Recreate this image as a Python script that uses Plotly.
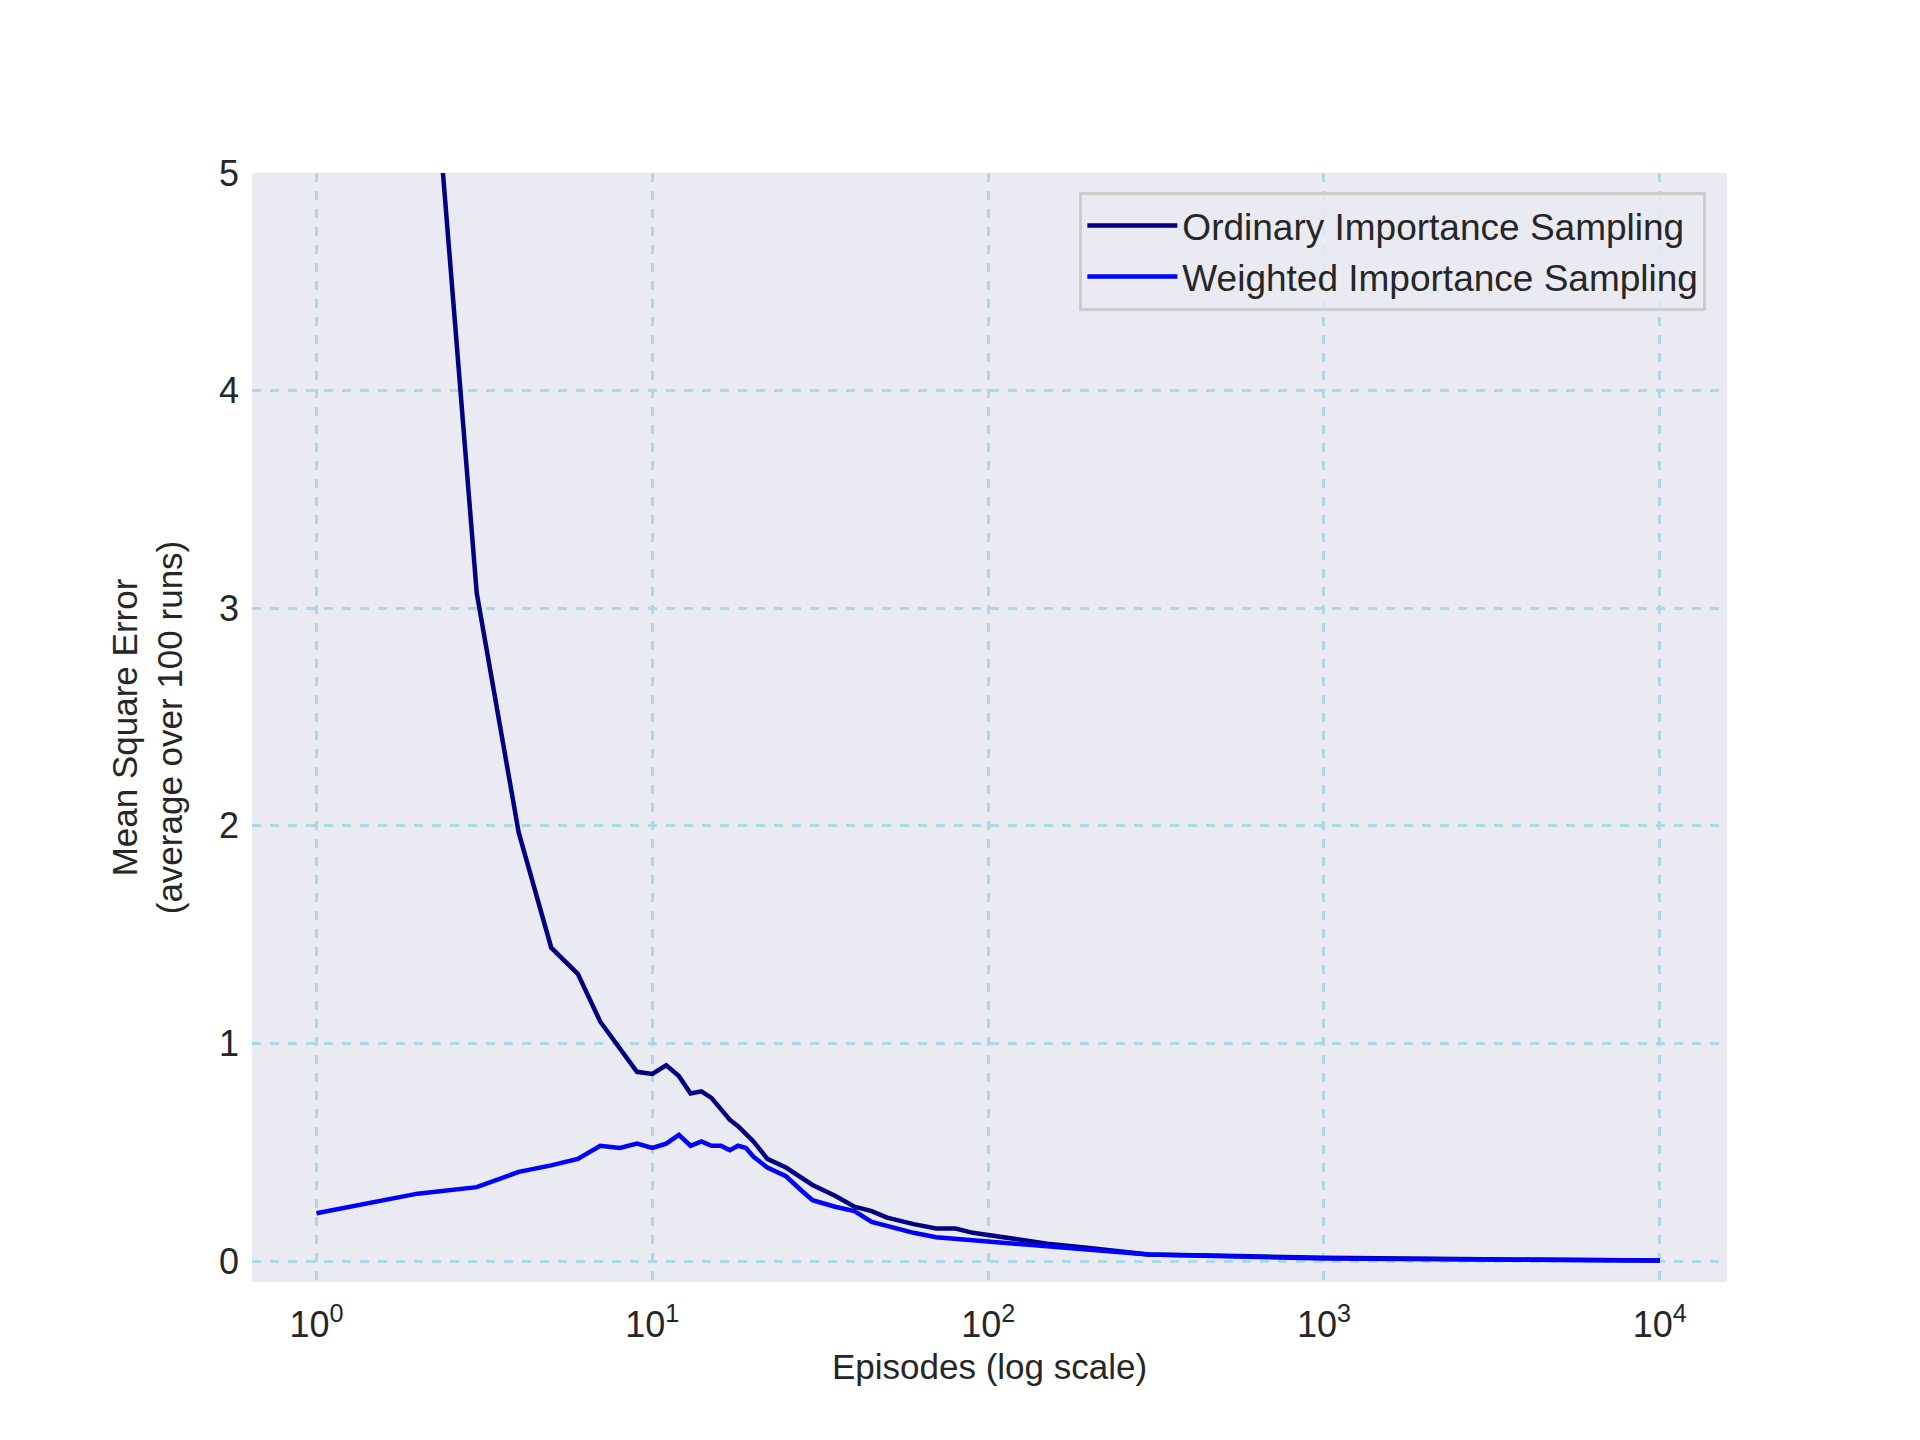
import plotly.graph_objects as go

ord_x = [1, 2, 3, 4, 5, 6, 7, 8, 9, 10, 11, 12, 13, 14, 15, 17, 18, 20, 22, 25, 28, 30, 35, 40,
         45, 50, 60, 70, 80, 90, 100, 120, 150, 200, 300, 500, 1000, 3000, 10000]
ord_y = [20.0, 6.45, 3.07, 1.97, 1.44, 1.32, 1.10, 0.98, 0.87, 0.86, 0.90, 0.85, 0.77, 0.78, 0.75,
         0.65, 0.62, 0.55, 0.47, 0.43, 0.38, 0.35, 0.30, 0.25, 0.23, 0.20, 0.17, 0.15, 0.15, 0.13,
         0.12, 0.10, 0.08, 0.06, 0.03, 0.025, 0.015, 0.008, 0.003]

wis_x = [1, 2, 3, 4, 5, 6, 7, 8, 9, 10, 11, 12, 13, 14, 15, 16, 17, 18, 19, 20, 22, 25, 28, 30,
         35, 40, 45, 50, 60, 70, 100, 150, 200, 300, 1000, 10000]
wis_y = [0.22, 0.31, 0.34, 0.41, 0.44, 0.47, 0.53, 0.52, 0.54, 0.52, 0.54, 0.58, 0.53, 0.55, 0.53,
         0.53, 0.51, 0.53, 0.52, 0.48, 0.43, 0.39, 0.32, 0.28, 0.25, 0.23, 0.18, 0.16, 0.13, 0.11,
         0.09, 0.07, 0.05, 0.03, 0.012, 0.003]

tick_vals = [1, 10, 100, 1000, 10000]
tick_text = ['10<sup>%d</sup>' % i for i in range(5)]

fig = go.Figure()
fig.add_trace(go.Scatter(x=ord_x, y=ord_y, mode='lines', name='Ordinary Importance Sampling',
                         line=dict(color='#000080', width=4.5)))
fig.add_trace(go.Scatter(x=wis_x, y=wis_y, mode='lines', name='Weighted Importance Sampling',
                         line=dict(color='#0000ff', width=4.5)))

grid = dict(showgrid=True, gridcolor='#ADD8E6', griddash='dash', gridwidth=2.5,
            zeroline=False, showline=False, ticks='',
            tickfont=dict(size=36, color='#262626'))

fig.update_layout(
    width=1920, height=1440,
    font=dict(family='Liberation Sans, Arial, sans-serif', color='#262626'),
    paper_bgcolor='white', plot_bgcolor='#EAEAF2',
    margin=dict(l=244, r=201, t=165, b=166),
    xaxis=dict(type='log', range=[-0.192, 4.2], tickvals=tick_vals, ticktext=tick_text,
               ticklabelstandoff=18,
               title=dict(text='Episodes (log scale)', font=dict(size=35), standoff=10), **grid),
    yaxis=dict(range=[-0.096, 5], tickvals=[0, 1, 2, 3, 4, 5], ticklabelstandoff=12,
               title=dict(text='Mean Square Error<br>(average over 100 runs)', font=dict(size=35),
                          standoff=25), **grid),
    legend=dict(x=0.986, y=0.983, xanchor='right', yanchor='top',
                bgcolor='rgba(234,234,242,0.8)', bordercolor='#CCCCCC', borderwidth=3,
                itemwidth=90, tracegroupgap=10,
                font=dict(size=37, color='#262626')),
)

fig.write_html('out.html')
